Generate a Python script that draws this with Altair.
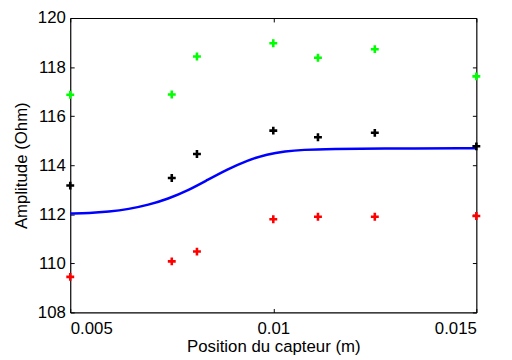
import altair as alt
import pandas as pd

# ---- data ----
x_pos = [0.005, 0.0075, 0.00812, 0.01, 0.0111, 0.0125, 0.015]
green_vals = [116.87, 116.88, 118.43, 118.97, 118.38, 118.73, 117.62]
black_vals = [113.17, 113.48, 114.46, 115.41, 115.14, 115.32, 114.77]
red_vals = [109.45, 110.08, 110.48, 111.80, 111.90, 111.90, 111.93]

curve_x = [0.005, 0.00546, 0.00595, 0.00644, 0.00692, 0.00741, 0.0079, 0.00838, 0.00887,
           0.00936, 0.00985, 0.0103, 0.0107, 0.0115, 0.0125, 0.015]
curve_y = [112.03, 112.05, 112.11, 112.21, 112.38, 112.63, 112.97, 113.40, 113.83,
           114.20, 114.45, 114.57, 114.63, 114.66, 114.68, 114.69]

x_ticks = [0.005, 0.01, 0.015]
y_ticks = [108, 110, 112, 114, 116, 118, 120]

W, H = 411, 298
FONT = "Liberation Sans"
PLUS = "M-1,0L1,0M0,-1L0,1"

pts = pd.DataFrame({"x": x_pos, "g": green_vals, "k": black_vals, "r": red_vals})
curve = pd.DataFrame({"x": curve_x, "y": curve_y})

xs = alt.Scale(domain=[0.005, 0.015], nice=False, zero=False)
ys = alt.Scale(domain=[108, 120], nice=False, zero=False)

common = dict(grid=False, tickColor="black", tickWidth=1, domainColor="black",
              domainWidth=1.2, labelColor="black", labelFont=FONT, labelFontSize=17,
              titleFont=FONT, titleFontSize=17, titleColor="black", titleFontWeight="normal")


def inner(orient, offset, domain, values):
    return alt.Axis(orient=orient, offset=offset, values=values, labels=False, ticks=True,
                    tickSize=4, domain=domain, title=None, **common)


line = alt.Chart(curve).mark_line(color="#0000FF", strokeWidth=2.5, interpolate="basis").encode(
    x=alt.X("x:Q", scale=xs, axis=alt.Axis(orient="bottom", values=x_ticks, format=".4~g", ticks=False,
                                          tickSize=0, labelPadding=8, title="Position du capteur (m)",
                                          titlePadding=3, **common)),
    y=alt.Y("y:Q", scale=ys, axis=alt.Axis(orient="left", values=y_ticks, ticks=False, tickSize=0,
                                          labelPadding=5, title="Amplitude (Ohm)", titlePadding=7,
                                          **common)),
)

MARK = dict(shape=PLUS, filled=False, size=64, strokeWidth=2.6, opacity=1)

green = alt.Chart(pts).mark_point(color="#00FF00", **MARK).encode(
    x=alt.X("x:Q", scale=xs, axis=inner("top", -H, False, x_ticks)),
    y=alt.Y("g:Q", scale=ys, axis=inner("right", -W, False, y_ticks)),
)

black = alt.Chart(pts).mark_point(color="black", **MARK).encode(
    x=alt.X("x:Q", scale=xs, axis=inner("bottom", -H, True, x_ticks)),
    y=alt.Y("k:Q", scale=ys, axis=inner("left", -W, True, y_ticks)),
)

red = alt.Chart(pts).mark_point(color="#FF0000", **MARK).encode(
    x=alt.X("x:Q", scale=xs, axis=None),
    y=alt.Y("r:Q", scale=ys, axis=None),
)

chart = alt.layer(line, green, black, red).resolve_axis(x="independent", y="independent").properties(
    width=W, height=H,
    autosize=alt.AutoSizeParams(type="none"),
    padding={"left": 63, "top": 8, "right": 28, "bottom": 45},
    background="white",
).configure_view(stroke=None)

chart.save("out.html", embed_options={"renderer": "svg", "actions": False})
